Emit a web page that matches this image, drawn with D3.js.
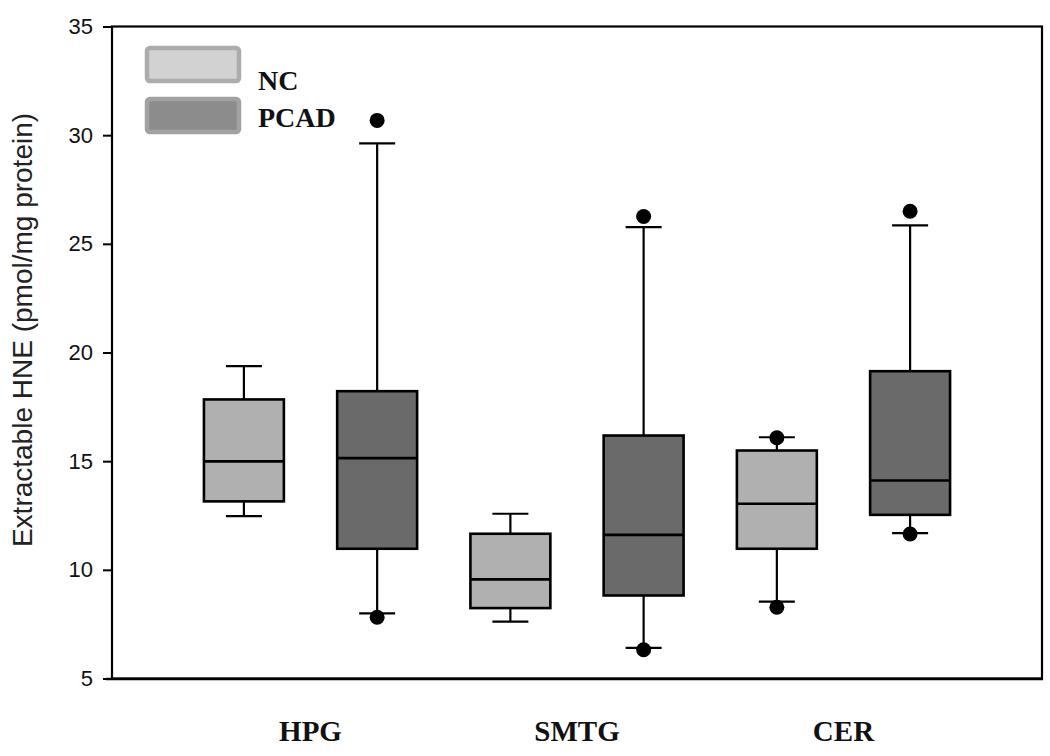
<!DOCTYPE html>
<html>
<head>
<meta charset="utf-8">
<script src="https://cdn.jsdelivr.net/npm/d3@7"></script>
<style>
  html, body { margin: 0; padding: 0; background: #fff; }
  svg { display: block; }
</style>
</head>
<body>
<svg id="chart" width="1050" height="756"></svg>
<script>
// ---- Data ----
const categories = ["HPG", "SMTG", "CER"];
const groups = ["NC", "PCAD"];
const yTicks = [5, 10, 15, 20, 25, 30, 35];

const ncWhiskerLow  = [12.47, 7.62, 8.54];
const ncQ1          = [13.15, 8.24, 10.97];
const ncMedian      = [14.99, 9.56, 13.04];
const ncQ3          = [17.84, 11.66, 15.49];
const ncWhiskerHigh = [19.37, 12.58, 16.10];
const ncOutliers    = [[], [], [8.28, 16.08]];

const pcadWhiskerLow  = [8.00, 6.41, 11.69];
const pcadQ1          = [10.97, 8.82, 12.53];
const pcadMedian      = [15.14, 11.61, 14.11];
const pcadQ3          = [18.22, 16.18, 19.14];
const pcadWhiskerHigh = [29.62, 25.77, 25.85];
const pcadOutliers    = [[7.82, 30.68], [6.32, 26.26], [11.65, 26.50]];

const boxFill = { NC: "#b0b0b0", PCAD: "#6a6a6a" };
const legendFill = { NC: "#d2d2d2", PCAD: "#8c8c8c" };
const legendStroke = { NC: "#acacac", PCAD: "#a2a2a2" };

// Build rows for drawing
const rows = [];
categories.forEach((c, i) => {
  rows.push({ cat: c, grp: "NC", lo: ncWhiskerLow[i], q1: ncQ1[i], med: ncMedian[i], q3: ncQ3[i], hi: ncWhiskerHigh[i], out: ncOutliers[i] });
  rows.push({ cat: c, grp: "PCAD", lo: pcadWhiskerLow[i], q1: pcadQ1[i], med: pcadMedian[i], q3: pcadQ3[i], hi: pcadWhiskerHigh[i], out: pcadOutliers[i] });
});

// ---- Layout ----
const plotLeft = 112, plotRight = 1042, plotTop = 26.5, plotBottom = 678.5;
const svg = d3.select("#chart");

const y = d3.scaleLinear().domain([5, 35]).range([plotBottom, plotTop]);
const x = d3.scaleBand().domain(categories).range([plotLeft, plotRight]).paddingInner(0).paddingOuter(0.245);
const xs = d3.scaleBand().domain(groups).range([0, x.bandwidth()]).padding(0);
const boxW = xs.bandwidth() * 0.6;
const capW = 36;

const cx = d => x(d.cat) + xs(d.grp) + xs.bandwidth() / 2;

// ---- Boxes ----
const g = svg.append("g");
const items = g.selectAll("g.box").data(rows).join("g").attr("class", "box");

// whiskers
items.append("line")
  .attr("x1", cx).attr("x2", cx)
  .attr("y1", d => y(d.q3)).attr("y2", d => y(d.hi))
  .attr("stroke", "#000").attr("stroke-width", 2.2);
items.append("line")
  .attr("x1", cx).attr("x2", cx)
  .attr("y1", d => y(d.q1)).attr("y2", d => y(d.lo))
  .attr("stroke", "#000").attr("stroke-width", 2.2);
// caps
items.append("line")
  .attr("x1", d => cx(d) - capW / 2).attr("x2", d => cx(d) + capW / 2)
  .attr("y1", d => y(d.hi)).attr("y2", d => y(d.hi))
  .attr("stroke", "#000").attr("stroke-width", 2.2);
items.append("line")
  .attr("x1", d => cx(d) - capW / 2).attr("x2", d => cx(d) + capW / 2)
  .attr("y1", d => y(d.lo)).attr("y2", d => y(d.lo))
  .attr("stroke", "#000").attr("stroke-width", 2.2);
// box
items.append("rect")
  .attr("x", d => cx(d) - boxW / 2)
  .attr("width", boxW)
  .attr("y", d => y(d.q3))
  .attr("height", d => y(d.q1) - y(d.q3))
  .attr("fill", d => boxFill[d.grp])
  .attr("stroke", "#000").attr("stroke-width", 2.6);
// median
items.append("line")
  .attr("x1", d => cx(d) - boxW / 2).attr("x2", d => cx(d) + boxW / 2)
  .attr("y1", d => y(d.med)).attr("y2", d => y(d.med))
  .attr("stroke", "#000").attr("stroke-width", 2.6);
// outliers
items.selectAll("circle").data(d => d.out.map(v => ({ v, d }))).join("circle")
  .attr("cx", o => cx(o.d)).attr("cy", o => y(o.v))
  .attr("r", 7.5).attr("fill", "#000");

// ---- Frame ----
svg.append("rect")
  .attr("x", plotLeft).attr("y", plotTop)
  .attr("width", plotRight - plotLeft).attr("height", plotBottom - plotTop)
  .attr("fill", "none").attr("stroke", "#000").attr("stroke-width", 2.2);
svg.append("line")
  .attr("x1", plotLeft - 6).attr("x2", plotRight + 1)
  .attr("y1", plotBottom + 0.5).attr("y2", plotBottom + 0.5)
  .attr("stroke", "#000").attr("stroke-width", 2.4);

// ---- Y axis ----
const yAxis = d3.axisLeft(y).tickValues(yTicks).tickSize(9).tickPadding(10).tickFormat(d3.format("d"));
const ya = svg.append("g").attr("transform", `translate(${plotLeft},0)`).call(yAxis);
ya.select(".domain").remove();
ya.selectAll(".tick line").attr("stroke", "#000").attr("stroke-width", 2);
ya.selectAll(".tick text")
  .attr("font-family", "'Liberation Sans', Arial, sans-serif")
  .attr("font-size", 22).attr("fill", "#111");

// Y title
svg.append("text")
  .attr("transform", `translate(32,330) rotate(-90)`)
  .attr("text-anchor", "middle")
  .attr("font-family", "'Liberation Sans', Arial, sans-serif")
  .attr("font-size", 28).attr("fill", "#222")
  .text("Extractable HNE (pmol/mg protein)");

// ---- Category labels ----
svg.append("g").selectAll("text").data(categories).join("text")
  .attr("x", d => x(d) + x.bandwidth() / 2)
  .attr("y", 741)
  .attr("text-anchor", "middle")
  .attr("font-family", "'Liberation Serif', 'Times New Roman', serif")
  .attr("font-weight", "bold")
  .attr("font-size", 29).attr("fill", "#111")
  .text(d => d);

// ---- Legend ----
const legY = d3.scaleBand().domain(groups).range([48, 132]).paddingInner(0.35);
const leg = svg.append("g");
leg.selectAll("rect").data(groups).join("rect")
  .attr("x", 147).attr("y", d => legY(d))
  .attr("width", 92).attr("height", legY.bandwidth())
  .attr("rx", 3)
  .attr("fill", d => legendFill[d])
  .attr("stroke", d => legendStroke[d]).attr("stroke-width", 4.5);
leg.selectAll("text").data(groups).join("text")
  .attr("x", 258).attr("y", (d, i) => [90, 127][i])
  .attr("font-family", "'Liberation Serif', 'Times New Roman', serif")
  .attr("font-weight", "bold")
  .attr("font-size", 28).attr("fill", "#111")
  .text(d => d);
</script>
</body>
</html>
